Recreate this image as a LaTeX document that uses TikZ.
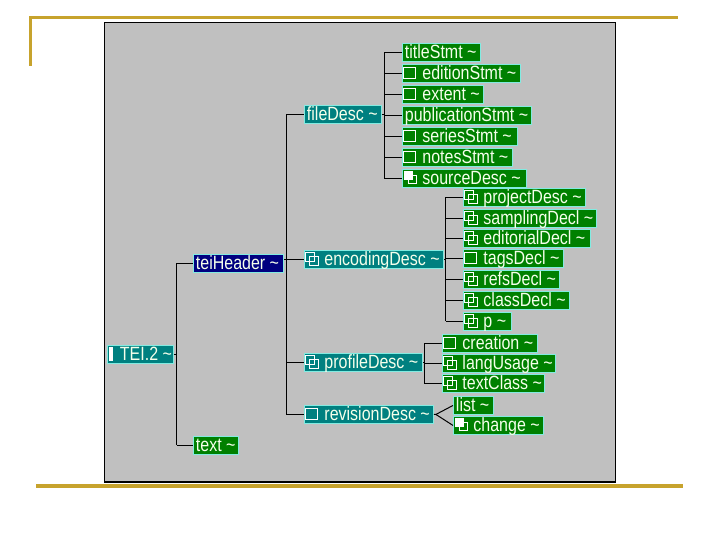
\documentclass[tikz,border=0pt]{standalone}
\usepackage{fontspec}
\setmainfont{Liberation Sans}
\usepackage{graphicx}
\definecolor{gold}{RGB}{199,163,45}
\definecolor{panel}{RGB}{192,192,192}
\definecolor{tgreen}{RGB}{0,128,0}
\definecolor{tteal}{RGB}{0,128,128}
\definecolor{tnavy}{RGB}{0,0,128}
\definecolor{glow}{RGB}{130,235,225}
\definecolor{ink}{RGB}{245,255,235}
\newcommand\tl{\char"7E}
\newcommand\mknode[7]{%
  \pgfmathsetmacro\nw{#4-#2}%
  \node[#5, anchor=north west] (#1) at (#2,#3)
    {\makebox[\nw pt][l]{\hspace*{#6pt}\scalebox{1}[1.2]{#7}}};}
\tikzset{
  tagbox/.style={inner sep=0pt, text height=15.5pt, text depth=2.5pt,
    draw=glow, line width=0.9pt, text=ink, font=\fontsize{16}{18}\selectfont,
    append after command={\pgfextra{\draw[black,line width=1pt]
      (\tikzlastnode.south west) -- (\tikzlastnode.south east) -- (\tikzlastnode.north east);}}},
  gbox/.style={tagbox, fill=tgreen},
  tbox/.style={tagbox, fill=tteal},
  nbox/.style={tagbox, fill=tnavy},
  conn/.style={draw=black, line width=1pt},
  sqicon/.pic={\draw[white, line width=1pt] (1.5,-6) rectangle (13.5,5.5);},
  ovicon/.pic={\draw[white, line width=1pt] (5,-3) rectangle (14,6);
               \draw[white, line width=1pt] (1,-7) rectangle (10,2);},
  wficon/.pic={\draw[white, line width=1pt] (6,-3) rectangle (14,5.5);
               \fill[white] (1.5,-7) rectangle (10.5,2);},
  baricon/.pic={\fill[white] (2,-7) rectangle (6,6.5);},
}
\begin{document}
\begin{tikzpicture}[x=1pt,y=-1pt]
\useasboundingbox (0,0) rectangle (720,540);
% frame
\draw[gold, line width=3pt] (29,18) -- (678,18);
\draw[gold, line width=3pt] (30.5,18) -- (30.5,66.5);
\draw[gold, line width=3.5pt] (36,486) -- (683,486);
\draw[fill=panel, draw=black, line width=1.5pt] (104.5,22.5) rectangle (615.5,482);

% nodes
\mknode{tei}{107}{345}{173}{tbox}{12.5}{TEI.2 \tl}
\mknode{teiHeader}{193}{254}{283}{nbox}{2.5}{teiHeader \tl}
\mknode{text}{193}{436}{238}{gbox}{2.5}{text \tl}
\mknode{fileDesc}{304}{105}{381}{tbox}{2.5}{fileDesc \tl}
\mknode{encodingDesc}{304}{250}{443}{tbox}{20}{encodingDesc \tl}
\mknode{profileDesc}{304}{353}{422}{tbox}{20}{profileDesc \tl}
\mknode{revisionDesc}{304}{405}{433}{tbox}{20}{revisionDesc \tl}
\mknode{titleStmt}{402}{43}{480}{gbox}{2.5}{titleStmt \tl}
\mknode{editionStmt}{402}{64}{520}{gbox}{20}{editionStmt \tl}
\mknode{extent}{402}{85}{483}{gbox}{20}{extent \tl}
\mknode{publicationStmt}{402}{106}{531}{gbox}{2.5}{publicationStmt \tl}
\mknode{seriesStmt}{402}{127}{517}{gbox}{20}{seriesStmt \tl}
\mknode{notesStmt}{402}{148}{512}{gbox}{20}{notesStmt \tl}
\mknode{sourceDesc}{402}{169}{526}{gbox}{20}{sourceDesc \tl}
\mknode{projectDesc}{463}{188}{585}{gbox}{20}{projectDesc \tl}
\mknode{samplingDecl}{463}{209}{596}{gbox}{20}{samplingDecl \tl}
\mknode{editorialDecl}{463}{229}{590}{gbox}{20}{editorialDecl \tl}
\mknode{tagsDecl}{463}{249}{563}{gbox}{20}{tagsDecl \tl}
\mknode{refsDecl}{463}{270}{559}{gbox}{20}{refsDecl \tl}
\mknode{classDecl}{463}{291}{569}{gbox}{20}{classDecl \tl}
\mknode{p}{463}{312}{511}{gbox}{20}{p \tl}
\mknode{creation}{442}{334}{537}{gbox}{20}{creation \tl}
\mknode{langUsage}{442}{354}{555}{gbox}{20}{langUsage \tl}
\mknode{textClass}{442}{374}{544}{gbox}{20}{textClass \tl}
\mknode{list}{453}{396}{493}{gbox}{2.5}{list \tl}
\mknode{change}{453}{416}{543}{gbox}{20}{change \tl}

% icons
\pic at (tei.west) {baricon};
\pic at (encodingDesc.west) {ovicon};
\pic at (profileDesc.west) {ovicon};
\pic at (revisionDesc.west) {sqicon};
\pic at (editionStmt.west) {sqicon};
\pic at (extent.west) {sqicon};
\pic at (seriesStmt.west) {sqicon};
\pic at (notesStmt.west) {sqicon};
\pic at (sourceDesc.west) {wficon};
\pic at (projectDesc.west) {ovicon};
\pic at (samplingDecl.west) {ovicon};
\pic at (editorialDecl.west) {ovicon};
\pic at (tagsDecl.west) {sqicon};
\pic at (refsDecl.west) {ovicon};
\pic at (classDecl.west) {ovicon};
\pic at (p.west) {ovicon};
\pic at (creation.west) {sqicon};
\pic at (langUsage.west) {ovicon};
\pic at (textClass.west) {ovicon};
\pic at (change.west) {wficon};

% connector spines
\coordinate (vT) at (176.7,0);
\coordinate (vH) at (286,0);
\coordinate (vF) at (384.4,0);
\coordinate (vE) at (445.7,0);
\coordinate (vP) at (424.3,0);

% TEI.2
\draw[conn] (tei.east) -- (tei.east -| vT);
\draw[conn] (teiHeader.west -| vT) -- (text.west -| vT);
\draw[conn] (teiHeader.west -| vT) -- (teiHeader.west);
\draw[conn] (text.west -| vT) -- (text.west);
% teiHeader
\draw[conn] (teiHeader.east |- encodingDesc.west) -- (encodingDesc.west);
\draw[conn] (fileDesc.west -| vH) -- (revisionDesc.west -| vH);
\foreach \c in {fileDesc,profileDesc,revisionDesc}
  \draw[conn] (\c.west -| vH) -- (\c.west);
% fileDesc
\draw[conn] (fileDesc.east) -- (fileDesc.east -| vF);
\draw[conn] (titleStmt.west -| vF) -- (sourceDesc.west -| vF);
\foreach \c in {titleStmt,editionStmt,extent,publicationStmt,seriesStmt,notesStmt,sourceDesc}
  \draw[conn] (\c.west -| vF) -- (\c.west);
% encodingDesc
\draw[conn] (encodingDesc.east) -- (encodingDesc.east -| vE);
\draw[conn] (projectDesc.west -| vE) -- (p.west -| vE);
\foreach \c in {projectDesc,samplingDecl,editorialDecl,tagsDecl,refsDecl,classDecl,p}
  \draw[conn] (\c.west -| vE) -- (\c.west);
% profileDesc
\draw[conn] (profileDesc.east) -- (profileDesc.east -| vP);
\draw[conn] (creation.west -| vP) -- (textClass.west -| vP);
\foreach \c in {creation,langUsage,textClass}
  \draw[conn] (\c.west -| vP) -- (\c.west);
% revisionDesc
\draw[conn] (revisionDesc.east) -- ++(2,0) coordinate (rj) -- (list.west);
\draw[conn] (rj) -- (change.west);
\end{tikzpicture}
\end{document}
